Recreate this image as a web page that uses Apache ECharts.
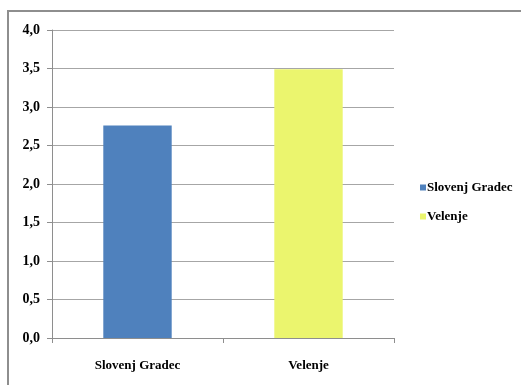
<!DOCTYPE html>
<html>
<head>
<meta charset="utf-8">
<script src="https://cdn.jsdelivr.net/npm/echarts@6/dist/echarts.min.js"></script>
<style>
  html, body { margin: 0; padding: 0; background: #ffffff; }
  #frame { position: absolute; left: 7px; top: 10px; width: 600px; height: 420px;
           border-left: 2px solid #8e8e8e; border-top: 2px solid #8e8e8e; box-sizing: border-box; }
  #chart { position: absolute; left: 0; top: 0; width: 521px; height: 385px; }
</style>
</head>
<body>
<div id="frame"></div>
<div id="chart"></div>
<script>
// Categories and values
const categories = ['Slovenj Gradec', 'Velenje'];
const seriesNames = ['Slovenj Gradec', 'Velenje'];
const values = [2.76, 3.49];
const colors = ['#4f81bd', '#ebf56e'];
const yTicks = [0, 0.5, 1, 1.5, 2, 2.5, 3, 3.5, 4];

const fontFamily = '"Liberation Serif", "Times New Roman", serif';

const chart = echarts.init(document.getElementById('chart'), null, { renderer: 'canvas' });

// One series per category so each bar gets its own legend entry
const series = seriesNames.map((name, i) => ({
  name: name,
  type: 'bar',
  stack: 'all',
  barWidth: '40%',
  itemStyle: { color: colors[i] },
  data: categories.map((c, j) => (j === i ? values[i] : '-'))
}));

chart.setOption({
  animation: false,
  backgroundColor: 'transparent',
  grid: { left: 52, top: 30, width: 342, height: 308, containLabel: false },
  legend: {
    orient: 'vertical',
    left: 415,
    top: 176,
    itemWidth: 6,
    itemHeight: 6,
    itemGap: 16,
    icon: 'rect',
    textStyle: { fontFamily: fontFamily, fontWeight: 'bold', fontSize: 13, color: '#000', padding: [0, 0, 0, -4] },
    data: seriesNames
  },
  xAxis: {
    type: 'category',
    data: categories,
    axisLine: { lineStyle: { color: '#8e8e8e', width: 1 } },
    axisTick: { show: true, length: 5, lineStyle: { color: '#8e8e8e' } },
    axisLabel: { fontFamily: fontFamily, fontWeight: 'bold', fontSize: 13, color: '#000', margin: 21 }
  },
  yAxis: {
    type: 'value',
    min: yTicks[0],
    max: yTicks[yTicks.length - 1],
    interval: 0.5,
    axisLine: { show: true, lineStyle: { color: '#8e8e8e', width: 1 } },
    axisTick: { show: true, length: 5, lineStyle: { color: '#8e8e8e' } },
    splitLine: { lineStyle: { color: '#a6a6a6', width: 1 } },
    axisLabel: {
      fontFamily: fontFamily, fontWeight: 'bold', fontSize: 14, color: '#000', margin: 12,
      formatter: v => v.toFixed(1).replace('.', ',')
    }
  },
  series: series
});
</script>
</body>
</html>
